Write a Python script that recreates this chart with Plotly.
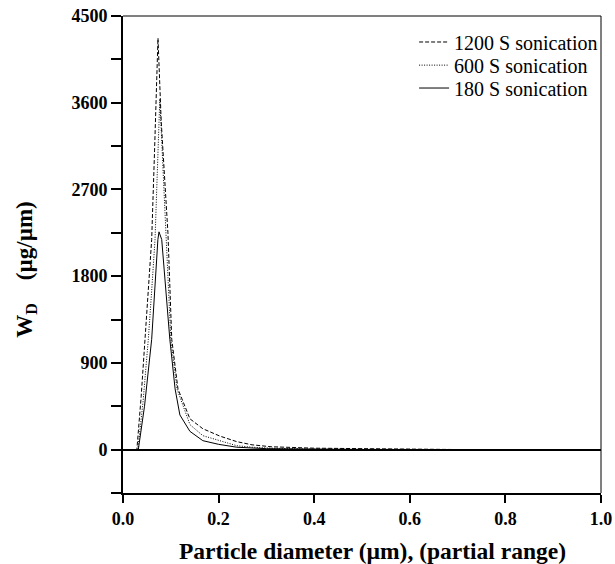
import plotly.graph_objects as go

# Particle diameter (µm) and W_D (µg/µm)
x_1200 = [0.0, 0.029, 0.038, 0.046, 0.053, 0.060, 0.066, 0.0732, 0.080, 0.087, 0.094, 0.102, 0.115, 0.14, 0.167, 0.203, 0.238, 0.27, 0.31, 0.40, 0.50, 0.60, 0.70, 0.85, 1.0]
y_1200 = [0, 0, 550, 1145, 1650, 2180, 3100, 4270, 3400, 2800, 2250, 1145, 630, 320, 217, 140, 83, 50, 30, 15, 8, 3, 1, 0, 0]

x_600 = [0.0, 0.031, 0.042, 0.053, 0.060, 0.067, 0.077, 0.084, 0.0914, 0.100, 0.113, 0.14, 0.167, 0.200, 0.238, 0.27, 0.31, 0.40, 0.50, 0.60, 0.75, 1.0]
y_600 = [0, 0, 500, 1145, 1650, 2180, 3640, 2850, 2180, 1145, 630, 260, 145, 100, 41, 25, 15, 6, 3, 1, 0, 0]

x_180 = [0.0, 0.032, 0.045, 0.060, 0.073, 0.0753, 0.081, 0.090, 0.098, 0.109, 0.119, 0.14, 0.167, 0.200, 0.238, 0.30, 0.40, 0.50, 0.70, 1.0]
y_180 = [0, 0, 450, 1145, 2180, 2260, 2180, 1650, 1145, 630, 360, 190, 93, 55, 25, 10, 3, 1, 0, 0]

series_names = ["1200 S sonication", "600 S sonication", "180 S sonication"]

x_ticks = [0.0, 0.2, 0.4, 0.6, 0.8, 1.0]
x_tick_labels = ["0.0", "0.2", "0.4", "0.6", "0.8", "1.0"]
y_ticks = [0, 900, 1800, 2700, 3600, 4500]
y_tick_labels = ["0", "900", "1800", "2700", "3600", "4500"]

SERIF = "Liberation Serif, Times New Roman, serif"

fig = go.Figure()
fig.add_trace(go.Scatter(x=x_1200, y=y_1200, mode="lines", name=series_names[0],
                         legend="legend",
                         line=dict(color="black", width=1, dash="4px,2px")))
fig.add_trace(go.Scatter(x=x_600, y=y_600, mode="lines", name=series_names[1],
                         legend="legend2",
                         line=dict(color="black", width=1, dash="1px,1.5px")))
fig.add_trace(go.Scatter(x=x_180, y=y_180, mode="lines", name=series_names[2],
                         legend="legend3",
                         line=dict(color="black", width=1)))

tickfont = dict(family=SERIF, size=18, color="black", weight="bold")
legfont = dict(family=SERIF, size=20, color="black")


def leg(y):
    return dict(x=0.609, y=y, xanchor="left", yanchor="middle", font=legfont,
                bgcolor="rgba(0,0,0,0)", itemwidth=30)


fig.update_layout(
    width=615, height=564,
    margin=dict(l=123, r=14, t=16, b=71),
    paper_bgcolor="white", plot_bgcolor="white",
    showlegend=True,
    legend=leg(0.9455), legend2=leg(0.897), legend3=leg(0.849),
    xaxis=dict(range=[0, 1.0], tickvals=x_ticks, ticktext=x_tick_labels,
               ticks="outside", ticklen=8, tickwidth=1.5, tickcolor="black",
               showline=True, linecolor="black", linewidth=2, mirror=False,
               showgrid=False, zeroline=False, tickfont=tickfont, automargin=False,
               ticklabeloverflow="allow"),
    yaxis=dict(range=[-450, 4500], tickvals=y_ticks, ticktext=y_tick_labels,
               ticks="outside", ticklen=10, tickwidth=1.5, tickcolor="black",
               minor=dict(dtick=450, tick0=0, ticks="outside", ticklen=10,
                          tickwidth=1.5, tickcolor="black", showgrid=False),
               showline=True, linecolor="black", linewidth=2, mirror=False,
               showgrid=False, zeroline=True, zerolinecolor="black", zerolinewidth=2,
               tickfont=tickfont, automargin=False, ticklabeloverflow="allow"),
    shapes=[
        dict(type="line", xref="paper", yref="paper", x0=0, x1=1, y0=1, y1=1,
             line=dict(color="black", width=1)),
        dict(type="line", xref="paper", yref="paper", x0=1, x1=1, y0=0, y1=1,
             line=dict(color="black", width=1)),
    ],
    annotations=[
        dict(text="W<sub>D</sub>&nbsp;&nbsp;&nbsp;&nbsp;(µg/µm)", xref="paper", yref="paper",
             x=-0.203, y=0.47, xanchor="center", yanchor="middle", textangle=-90,
             showarrow=False,
             font=dict(family=SERIF, size=23, color="black", weight="bold")),
        dict(text="Particle diameter (µm), (partial range)", xref="paper", yref="paper",
             x=0.522, y=-0.1216, xanchor="center", yanchor="middle",
             showarrow=False,
             font=dict(family=SERIF, size=23.5, color="black", weight="bold")),
    ],
)

fig.write_html("out.html", config={"displayModeBar": False},
               post_script="document.body.style.margin='0';")
